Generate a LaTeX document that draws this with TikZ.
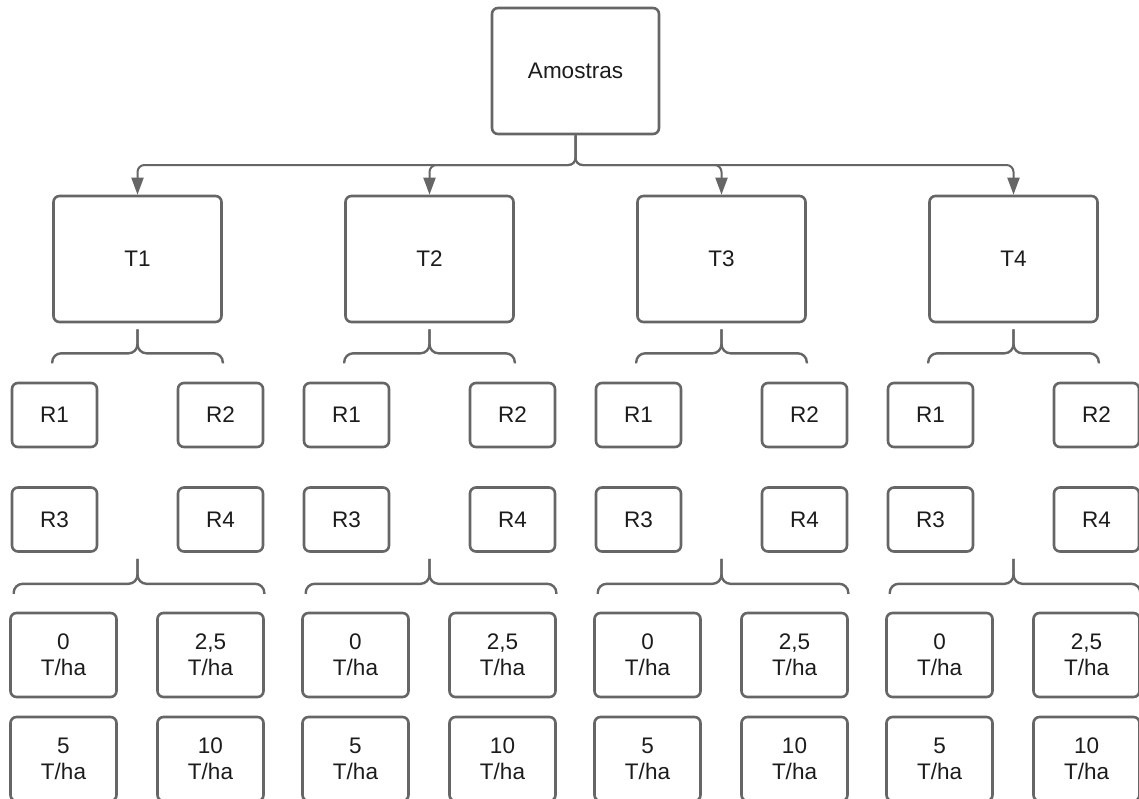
\documentclass[tikz,border=0pt]{standalone}
\usepackage{fontspec}
\setmainfont{Liberation Sans}
\usetikzlibrary{arrows.meta,calc,positioning}
\definecolor{linegray}{RGB}{102,102,102}
\definecolor{textgray}{RGB}{28,28,28}

\begin{document}
\begin{tikzpicture}[x=1pt,y=-1pt,
  box/.style={draw=linegray,line width=2.6pt,rounded corners=6pt,fill=white,text=textgray,align=center,inner sep=0pt,font=\fontsize{22.5}{26}\selectfont},
  conn/.style={draw=linegray,line width=2pt,rounded corners=7pt},
  brc/.style={draw=linegray,line width=2.4pt,rounded corners=9pt}]
\useasboundingbox (0,0) rectangle (1139,798);
\clip (0,0) rectangle (1139,798);
\node[box,minimum width=167,minimum height=126] (amostras) at (575.5,71) {Amostras};
\coordinate (bus) at (575.5,165);
\foreach \i/\xx in {1/137.5,2/429.5,3/721.5,4/1013.5} {
  \node[box,minimum width=168,minimum height=126] (T\i) at (\xx,259) {T\i};
  \draw[conn,-{Triangle[length=17pt,width=12pt]}] (amostras.south) -- (bus) -| (T\i.north);
  \draw[brc] ($(T\i.south west)+(0,40)$) |- ($(T\i.south)+(0,30)$) -- ++(0,-24);
  \draw[brc] ($(T\i.south east)+(0,40)$) |- ($(T\i.south)+(0,30)$) -- ++(0,-24);
  \foreach \n/\dx/\dy in {1/-83/156,2/83/156,3/-83/260.5,4/83/260.5}
    \node[box,minimum width=85,minimum height=64] (r\i\n) at ($(T\i)+(\dx,\dy)$) {R\n};
  \draw[brc] ($(r\i3.south west)+(3,41)$) |- ($(T\i.center |- r\i3.south)+(0,31)$) -- ++(0,-25);
  \draw[brc] ($(r\i4.south east)+(0,41)$) |- ($(T\i.center |- r\i3.south)+(0,31)$) -- ++(0,-25);
  \foreach \n/\dx/\dy/\lab in {a/-74/396/0,b/73/396/{2,5},c/-74/500/5,d/73/500/10}
    \node[box,minimum width=106,minimum height=84] (d\i\n) at ($(T\i)+(\dx,\dy)$) {\lab\\T/ha};
}
\end{tikzpicture}
\end{document}
